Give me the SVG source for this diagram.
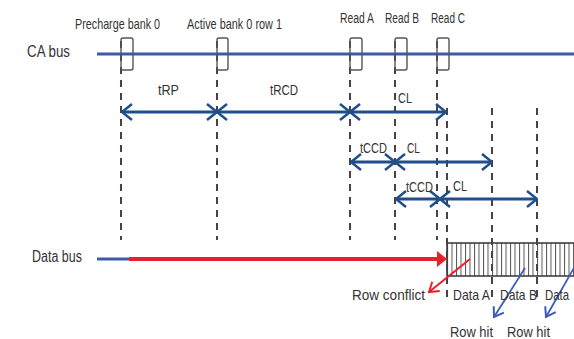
<svg xmlns="http://www.w3.org/2000/svg" width="574" height="339" viewBox="0 0 574 339">
<style>
text{font-family:"Liberation Sans",Arial,sans-serif;fill:#333;}
.lbl{font-size:15px;}
.rd{font-size:14px;}
.bus{font-size:16px;}
.cmd{fill:none;stroke:#555;stroke-width:1.4;}
.dash{stroke:#4a4242;stroke-width:2;stroke-dasharray:7 6;fill:none;}
.tim{stroke:#1e4f8a;stroke-width:3;fill:none;}
.xm{stroke:#1e4f8a;stroke-width:2.5;fill:none;}
</style>
<defs>
<marker id="open" viewBox="0 0 12 18" refX="11" refY="9" markerWidth="12" markerHeight="18" markerUnits="userSpaceOnUse" orient="auto-start-reverse">
<path d="M1,1 L11,9 L1,17" fill="none" stroke="#1e4f8a" stroke-width="2.5"/>
</marker>
<marker id="redhead" viewBox="0 0 12 14" refX="10" refY="7" markerWidth="12" markerHeight="14" markerUnits="userSpaceOnUse" orient="auto">
<path d="M1,1 L10,7 L1,13" fill="none" stroke="#e8202a" stroke-width="2"/>
</marker>
<marker id="bluehead" viewBox="0 0 12 14" refX="10" refY="7" markerWidth="12" markerHeight="14" markerUnits="userSpaceOnUse" orient="auto">
<path d="M1,1 L10,7 L1,13" fill="none" stroke="#3d5cb8" stroke-width="2"/>
</marker>
<pattern id="hatch" x="447" y="0" width="4.5" height="40" patternUnits="userSpaceOnUse">
<rect width="4.5" height="40" fill="#fff"/>
<line x1="0.5" y1="0" x2="0.5" y2="40" stroke="#555" stroke-width="1"/>
</pattern>
</defs>

<g id="labels">
<text class="bus" x="27" y="57" textLength="43" lengthAdjust="spacingAndGlyphs">CA bus</text>
<text class="bus" x="32" y="262" textLength="50" lengthAdjust="spacingAndGlyphs">Data bus</text>
</g>

<g id="ca-bus">
<line x1="97" y1="54" x2="574" y2="54" stroke="#3d5aa8" stroke-width="3"/>
</g>

<g id="data-burst">
<rect x="447" y="243" width="130" height="33" fill="url(#hatch)" stroke="#333" stroke-width="1.5"/>
</g>

<g id="connectors">
<line class="dash" x1="121" y1="41" x2="121" y2="240"/>
<line class="dash" x1="217" y1="41" x2="217" y2="240"/>
<line class="dash" x1="350" y1="41" x2="350" y2="240"/>
<line class="dash" x1="395" y1="41" x2="395" y2="240"/>
<line class="dash" x1="437" y1="41" x2="437" y2="240"/>
<line class="dash" x1="447" y1="108" x2="447" y2="300"/>
<line class="dash" x1="492" y1="108" x2="492" y2="300"/>
<line class="dash" x1="537" y1="108" x2="537" y2="300"/>

<line class="tim" x1="122" y1="112" x2="446" y2="112" marker-start="url(#open)" marker-end="url(#open)"/>
<path class="xm" d="M207,104 L227,120 M207,120 L227,104 M340,104 L360,120 M340,120 L360,104"/>

<line class="tim" x1="351" y1="162" x2="492" y2="162" marker-start="url(#open)" marker-end="url(#open)"/>
<path class="xm" d="M385,154 L405,170 M385,170 L405,154"/>

<line class="tim" x1="396" y1="199" x2="537" y2="199" marker-start="url(#open)" marker-end="url(#open)"/>
<path class="xm" d="M430,191 L450,207 M430,207 L450,191"/>

<line x1="97" y1="259" x2="130" y2="259" stroke="#3d5aa8" stroke-width="3"/>
<line x1="129" y1="259" x2="438" y2="259" stroke="#e8202a" stroke-width="4"/>
<polygon points="437,251 447,259 437,267" fill="#e8202a"/>

<line x1="470" y1="259" x2="429" y2="292" stroke="#e8202a" stroke-width="2" marker-end="url(#redhead)"/>
<line x1="525" y1="268" x2="494" y2="317" stroke="#3d5cb8" stroke-width="1.8" marker-end="url(#bluehead)"/>
<line x1="575" y1="266" x2="546" y2="317" stroke="#3d5cb8" stroke-width="1.8" marker-end="url(#bluehead)"/>
</g>

<g id="precharge">
<rect class="cmd" x="121" y="38" width="12" height="32" rx="2"/>
<text class="lbl" x="75" y="29" textLength="85" lengthAdjust="spacingAndGlyphs">Precharge bank 0</text>
</g>
<g id="active">
<rect class="cmd" x="217" y="38" width="11" height="32" rx="2"/>
<text class="lbl" x="187" y="29" textLength="95" lengthAdjust="spacingAndGlyphs">Active bank 0 row 1</text>
</g>
<g id="readA">
<rect class="cmd" x="350" y="38" width="12" height="32" rx="2"/>
<text class="rd" x="340" y="23" textLength="34" lengthAdjust="spacingAndGlyphs">Read A</text>
</g>
<g id="readB">
<rect class="cmd" x="395" y="38" width="12" height="32" rx="2"/>
<text class="rd" x="385" y="23" textLength="34" lengthAdjust="spacingAndGlyphs">Read B</text>
</g>
<g id="readC">
<rect class="cmd" x="437" y="38" width="12" height="32" rx="2"/>
<text class="rd" x="431" y="23" textLength="34" lengthAdjust="spacingAndGlyphs">Read C</text>
</g>

<g id="timing-labels">
<text class="lbl" x="158" y="95" textLength="21" lengthAdjust="spacingAndGlyphs">tRP</text>
<text class="lbl" x="270" y="95" textLength="28" lengthAdjust="spacingAndGlyphs">tRCD</text>
<text class="lbl" x="398" y="103" textLength="14" lengthAdjust="spacingAndGlyphs">CL</text>
<text class="lbl" x="360" y="153" textLength="27" lengthAdjust="spacingAndGlyphs">tCCD</text>
<text class="lbl" x="407" y="153" textLength="13" lengthAdjust="spacingAndGlyphs">CL</text>
<text class="lbl" x="406" y="192" textLength="27" lengthAdjust="spacingAndGlyphs">tCCD</text>
<text class="lbl" x="453" y="191" textLength="14" lengthAdjust="spacingAndGlyphs">CL</text>
</g>

<g id="data-labels">
<text class="lbl" x="352" y="300" textLength="73" lengthAdjust="spacingAndGlyphs">Row conflict</text>
<text class="lbl" x="453" y="300" textLength="37" lengthAdjust="spacingAndGlyphs">Data A</text>
<text class="lbl" x="500" y="300" textLength="37" lengthAdjust="spacingAndGlyphs">Data B</text>
<text class="rd" x="545" y="300" textLength="24" lengthAdjust="spacingAndGlyphs">Data</text>
<text class="lbl" x="450" y="337" textLength="43" lengthAdjust="spacingAndGlyphs">Row hit</text>
<text class="lbl" x="507" y="337" textLength="43" lengthAdjust="spacingAndGlyphs">Row hit</text>
</g>
</svg>
